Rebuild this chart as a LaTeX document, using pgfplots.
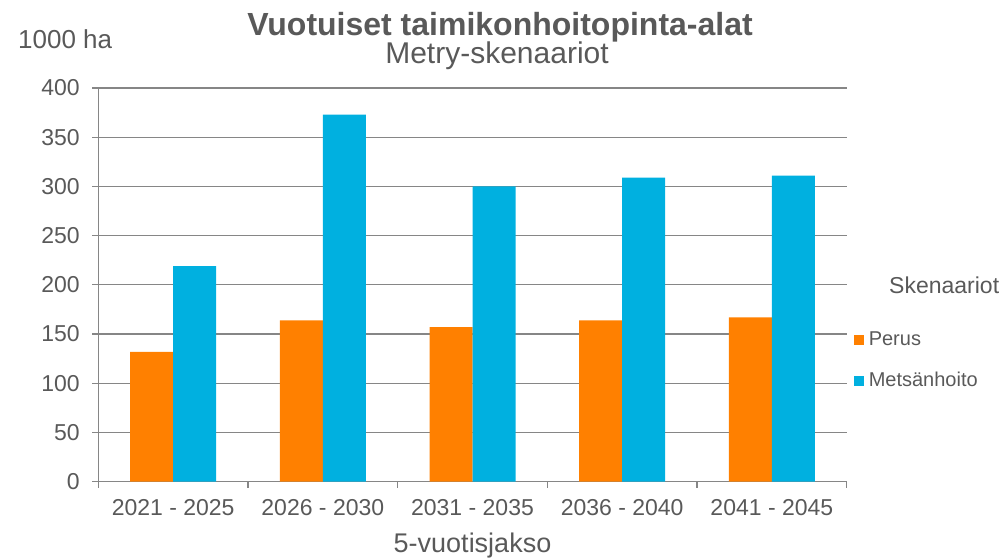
\documentclass[border=0pt]{standalone}
\usepackage{pgfplots}
\pgfplotsset{compat=1.18}
\usepackage{fontspec}
\setmainfont{Liberation Sans}
\definecolor{perus}{RGB}{255,128,0}
\definecolor{metsa}{RGB}{0,176,224}
\definecolor{txt}{RGB}{89,89,89}
\definecolor{gridc}{RGB}{134,134,134}
\begin{document}
\begin{tikzpicture}[x=1bp,y=1bp]
\path[use as bounding box] (0,0) rectangle (1004,558);
\begin{axis}[
  at={(98.3bp,76.3bp)}, anchor=south west,
  scale only axis, width=748.4bp, height=393.7bp,
  ybar=0pt, bar width=43bp,
  xmin=-0.5, xmax=4.5, ymin=0, ymax=400,
  ytick={0,50,...,400},
  xtick={-0.5,0.5,...,4.5}, xticklabels={},
  extra x ticks={0,1,2,3,4},
  extra x tick labels={2021 - 2025,2026 - 2030,2031 - 2035,2036 - 2040,2041 - 2045},
  extra x tick style={major tick length=0pt},
  axis x line*=bottom, axis y line*=left,
  axis line style={gridc, line width=1.3bp, -},
  tick style={gridc, line width=1.3bp},
  tick align=outside, major tick length=6bp,
  ymajorgrids, grid style={gridc, line width=1.3bp},
  ticklabel style={font=\fontsize{23bp}{27bp}\selectfont, text=txt},
  xticklabel style={yshift=-14bp},
  yticklabel style={xshift=-9bp},
  /pgf/number format/assume math mode=true,
  legend style={at={(axis description cs:1.0101,0.3865)}, anchor=north west,
    draw=none, fill=none, inner sep=0pt, outer sep=0pt,
    font=\fontsize{20bp}{24bp}\selectfont, text=txt,
    row sep=20bp,
    nodes={inner sep=1.5bp, text height=14bp, text depth=4bp}},
  legend cell align=left,
  legend image code/.code={\fill[#1] (0bp,-5bp) rectangle (10bp,5bp);},
  /tikz/every odd column/.append style={column sep=3bp},
]
\addplot[fill=perus, draw=none] coordinates {(0,132) (1,164) (2,157) (3,164) (4,167)};
\addplot[fill=metsa, draw=none] coordinates {(0,219) (1,373) (2,300) (3,309) (4,311)};
\legend{Perus,Metsänhoito}
\end{axis}
\node[anchor=base, text=txt, font=\fontsize{32bp}{36bp}\selectfont\bfseries] at (500,522) {Vuotuiset taimikonhoitopinta-alat};
\node[anchor=base, text=txt, font=\fontsize{30bp}{34bp}\selectfont] at (497,494) {Metry-skenaariot};
\node[anchor=base west, text=txt, font=\fontsize{26bp}{30bp}\selectfont, inner sep=0pt] at (18,509) {1000 ha};
\node[anchor=base, text=txt, font=\fontsize{27bp}{31bp}\selectfont] at (472.5,5) {5-vuotisjakso};
\node[anchor=base west, text=txt, font=\fontsize{23bp}{27bp}\selectfont, inner sep=0pt] at (889,264) {Skenaariot};
\end{tikzpicture}
\end{document}
